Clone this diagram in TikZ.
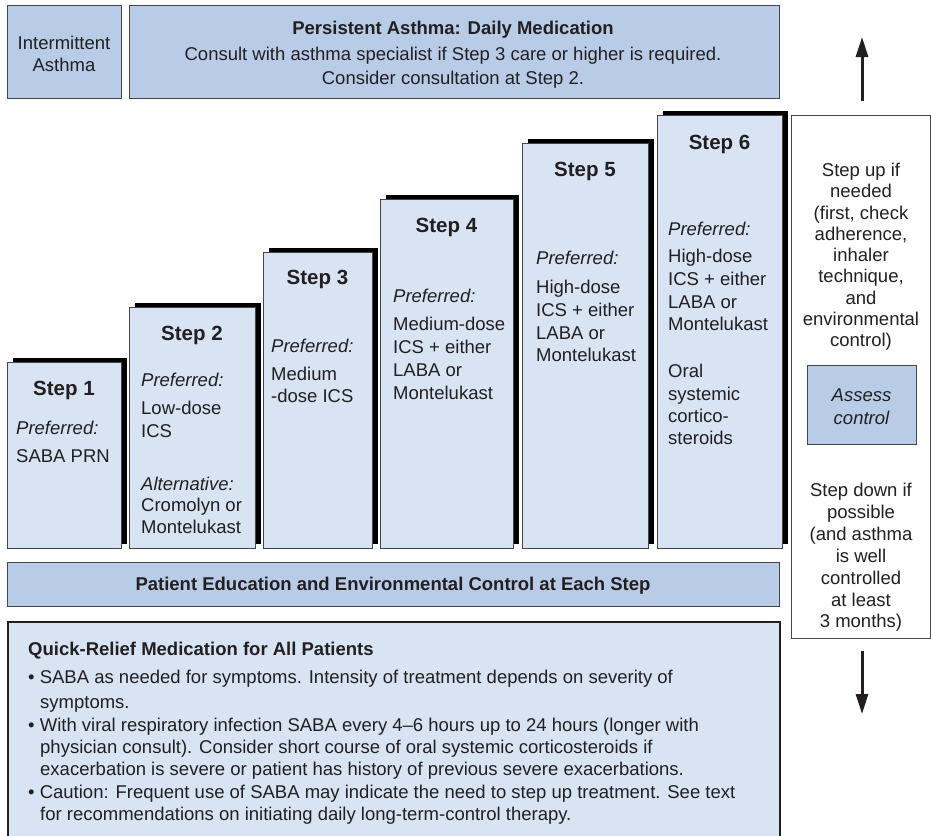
\documentclass[tikz,border=0pt]{standalone}
\usepackage{fontspec}
\setmainfont{Liberation Sans}
\usetikzlibrary{arrows.meta,shadows}
\definecolor{hdrblue}{RGB}{184,204,232}
\definecolor{stepblue}{RGB}{216,227,243}
\definecolor{edgegray}{RGB}{70,70,70}
\definecolor{ink}{RGB}{35,31,32}
\begin{document}
\begin{tikzpicture}[x=1pt,y=-1pt,
  every node/.style={text=ink,font=\fontsize{18.5}{22}\selectfont},
  hdrbox/.style={draw=edgegray,line width=1.3pt,fill=hdrblue,anchor=north west,inner sep=0pt},
  stepbox/.style={draw=edgegray,line width=1.3pt,fill=stepblue,anchor=north west,inner sep=0pt,
    drop shadow={shadow xshift=5pt,shadow yshift=5pt,fill=black,opacity=1}},
  whitebox/.style={draw=edgegray,line width=1pt,fill=white,anchor=north west,inner sep=0pt},
  quickbox/.style={draw=ink,line width=2.4pt,fill=stepblue,anchor=north west,inner sep=0pt},
  txt/.style={anchor=base west,inner sep=0pt},
  ctxt/.style={anchor=base,inner sep=0pt},
  it/.style={txt,font=\fontsize{18.5}{22}\selectfont\itshape},
  steptitle/.style={anchor=base,inner sep=0pt,font=\fontsize{20.5}{24}\selectfont\bfseries},
  bold/.style={anchor=base,inner sep=0pt,font=\fontsize{18.5}{22}\selectfont\bfseries},
  bigarrow/.style={line width=3pt,draw=ink,-{Triangle[length=20pt,width=12pt]}}
]
\useasboundingbox (0,0) rectangle (931,835);

% top header boxes
\node[hdrbox,minimum width=114pt,minimum height=93pt] (inter) at (7,5) {};
\node[hdrbox,minimum width=650pt,minimum height=93pt] (pers) at (129,5) {};
\node[ctxt] (interA) at (64,49.5) {Intermittent};
\node[ctxt] (interB) at (64,71.5) {Asthma};
\node[bold] (persT) at (453,34) {Persistent Asthma: Daily Medication};
\node[ctxt] (persA) at (453,60.5) {Consult with asthma specialist if Step 3 care or higher is required.};
\node[ctxt] (persB) at (453,84.5) {Consider consultation at Step 2.};

% step boxes
\node[stepbox,minimum width=114pt,minimum height=186pt] (s1) at (7,362) {};
\node[stepbox,minimum width=126pt,minimum height=241pt] (s2) at (129,307) {};
\node[stepbox,minimum width=109pt,minimum height=296pt] (s3) at (263,252) {};
\node[stepbox,minimum width=133pt,minimum height=349pt] (s4) at (380,199) {};
\node[stepbox,minimum width=126pt,minimum height=405pt] (s5) at (522,143) {};
\node[stepbox,minimum width=125pt,minimum height=433pt] (s6) at (657,115) {};

% step 1
\node[steptitle] (s1t) at (64,395) {Step 1};
\node[it] (s1a) at (16,434) {Preferred:};
\node[txt] (s1b) at (16,462) {SABA PRN};
% step 2
\node[steptitle] (s2t) at (192,340) {Step 2};
\node[it] (s2a) at (141,386) {Preferred:};
\node[txt] (s2b) at (141,414) {Low-dose};
\node[txt] (s2c) at (141,437) {ICS};
\node[it] (s2d) at (141,490) {Alternative:};
\node[txt] (s2e) at (141,511) {Cromolyn or};
\node[txt] (s2f) at (141,533.5) {Montelukast};
% step 3
\node[steptitle] (s3t) at (317.5,284) {Step 3};
\node[it] (s3a) at (271,352) {Preferred:};
\node[txt] (s3b) at (271,380) {Medium};
\node[txt] (s3c) at (271,402) {-dose ICS};
% step 4
\node[steptitle] (s4t) at (446.5,232) {Step 4};
\node[it] (s4a) at (393,302) {Preferred:};
\node[txt] (s4b) at (393,330) {Medium-dose};
\node[txt] (s4c) at (393,353) {ICS + either};
\node[txt] (s4d) at (393,376) {LABA or};
\node[txt] (s4e) at (393,399) {Montelukast};
% step 5
\node[steptitle] (s5t) at (585,176) {Step 5};
\node[it] (s5a) at (536,264) {Preferred:};
\node[txt] (s5b) at (536,293) {High-dose};
\node[txt] (s5c) at (536,316) {ICS + either};
\node[txt] (s5d) at (536,339) {LABA or};
\node[txt] (s5e) at (536,361) {Montelukast};
% step 6
\node[steptitle] (s6t) at (719.5,149) {Step 6};
\node[it] (s6a) at (668,235) {Preferred:};
\node[txt] (s6b) at (668,262) {High-dose};
\node[txt] (s6c) at (668,285) {ICS + either};
\node[txt] (s6d) at (668,308) {LABA or};
\node[txt] (s6e) at (668,330) {Montelukast};
\node[txt] (s6f) at (668,377) {Oral};
\node[txt] (s6g) at (668,400) {systemic};
\node[txt] (s6h) at (668,422) {cortico-};
\node[txt] (s6i) at (668,444) {steroids};

% right column
\node[whitebox,minimum width=139pt,minimum height=523pt] (right) at (791,115) {};
\foreach \t [count=\i from 0] in {{Step up if},{needed},{(first, check},{adherence,},{inhaler},{technique,},{and},{environmental},{control)}}
  \node[ctxt] (up\i) at (861,{176.5+21.25*\i}) {\t};
\node[hdrbox,minimum width=109pt,minimum height=79pt] (assess) at (807,365) {};
\node[ctxt,font=\fontsize{18.5}{22}\selectfont\itshape] (assA) at (861.5,401.5) {Assess};
\node[ctxt,font=\fontsize{18.5}{22}\selectfont\itshape] (assB) at (861.5,424.5) {control};
\foreach \t [count=\i from 0] in {{Step down if},{possible},{(and asthma},{is well},{controlled},{at least},{3 months)}}
  \node[ctxt] (dn\i) at (861,{496.5+21.9*\i}) {\t};

% arrows
\coordinate (upS) at (862,101);
\coordinate (upT) at (862,37);
\coordinate (dnS) at (862,651);
\coordinate (dnT) at (862,714);
\draw[bigarrow] (upS) -- (upT);
\draw[bigarrow] (dnS) -- (dnT);

% patient education
\node[hdrbox,minimum width=772pt,minimum height=44pt] (edu) at (7,562) {};
\node[bold] (eduT) at (393,590.5) {Patient Education and Environmental Control at Each Step};

% quick relief
\node[quickbox,minimum width=772pt,minimum height=230pt] (quick) at (7,621) {};
\node[txt,font=\fontsize{18.5}{22}\selectfont\bfseries] (qT) at (28,655.5) {Quick-Relief Medication for All Patients};
\node[txt] (q1) at (28,683.5) {• SABA as needed for symptoms. Intensity of treatment depends on severity of};
\node[txt] (q2) at (40,708.5) {symptoms.};
\node[txt] (q3) at (28,731.5) {• With viral respiratory infection SABA every 4–6 hours up to 24 hours (longer with};
\node[txt] (q4) at (40,753.5) {physician consult). Consider short course of oral systemic corticosteroids if};
\node[txt] (q5) at (40,775.5) {exacerbation is severe or patient has history of previous severe exacerbations.};
\node[txt] (q6) at (28,798.5) {• Caution: Frequent use of SABA may indicate the need to step up treatment. See text};
\node[txt] (q7) at (40,820.5) {for recommendations on initiating daily long-term-control therapy.};
\end{tikzpicture}
\end{document}
